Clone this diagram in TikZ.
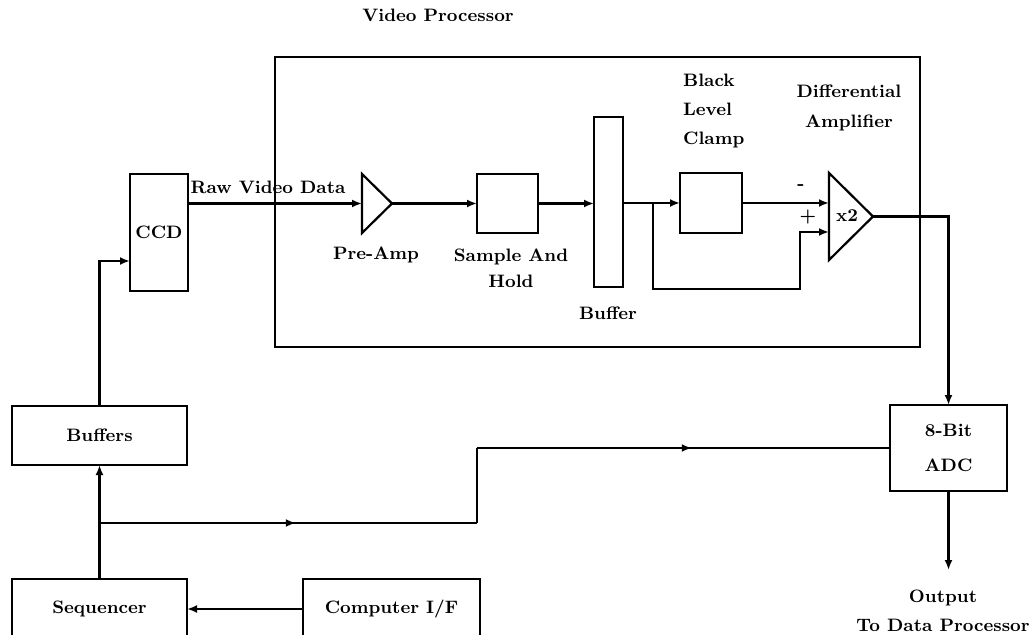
\documentclass[tikz,border=0pt]{standalone}
\usetikzlibrary{shapes.geometric,arrows.meta,decorations.markings}

\begin{document}
\begin{tikzpicture}[
    x=0.5pt, y=-0.5pt,
    >={Latex[length=5pt,width=4pt]},
    line width=1.1pt,
    every node/.style={font=\fontsize{9}{11}\selectfont\bfseries},
    block/.style={
        rectangle, draw=black, line width=1.1pt,
        inner sep=0pt, outer sep=0pt, align=center
    },
    amp/.style={
        isosceles triangle, isosceles triangle stretches,
        shape border rotate=0, draw=black, line width=1.1pt,
        inner sep=0pt, outer sep=0pt
    },
    caption/.style={inner sep=0pt, align=center},
    midarrow/.style={
        postaction={decorate},
        decoration={markings, mark=at position 0.52 with {\arrow{>}}}
    },
]

\useasboundingbox (0,0) rectangle (1031,635);
\clip (0,0) rectangle (1031,635);

% ── Video processor frame ────────────────────────────────────
\node[block, minimum width=322.5pt, minimum height=145pt] (vp) at (597.5,202) {};
\node[caption] (vptitle) at (438,15) {Video Processor};

% ── Signal chain ─────────────────────────────────────────────
\node[block, minimum width=29pt, minimum height=58.5pt] (ccd) at (159,232.5) {CCD};
\node[caption] (rawlbl) at (268,187) {Raw Video Data};

\node[amp, minimum width=29.5pt, minimum height=15pt, anchor=apex] (pre) at (392,203.5) {};
\node[caption] (prelbl) at (376,255) {Pre-Amp};

\node[block, minimum width=30.5pt, minimum height=29.5pt] (sh) at (507.5,203.5) {};
\node[caption] (shlbl) at (511,268) {Sample And\\[2pt]Hold};

\node[block, minimum width=14.5pt, minimum height=85pt] (buf) at (608.5,202) {};
\node[caption] (buflbl) at (608,313) {Buffer};

\node[block, minimum width=31pt, minimum height=30pt] (clamp) at (711,203) {};
\node[caption, anchor=west, align=left] (clamplbl) at (682,111) {Black\\[3.5pt]Level\\[3.5pt]Clamp};

\node[amp, minimum width=43.5pt, minimum height=22pt, anchor=apex] (diff) at (873,216.5) {};
\node[caption] (gain) at (847,216) {x2};
\node[caption] (minus) at (801,187) {-};
\node[caption] (plus) at (808,217) {+};
\node[caption] (difflbl) at (849,108) {Differential\\[4pt]Amplifier};

% ── Control and conversion ───────────────────────────────────
\node[block, minimum width=87.5pt, minimum height=29.5pt] (bufs) at (99.5,435.5) {Buffers};
\node[block, minimum width=58.5pt, minimum height=43pt] (adc) at (948.5,448) {8-Bit\\[6.5pt]ADC};
\node[block, minimum width=87.5pt, minimum height=30pt] (seq) at (99.5,609) {Sequencer};
\node[block, minimum width=88.5pt, minimum height=30pt] (comp) at (391.5,609) {Computer I/F};
\node[caption] (out) at (943,611) {Output\\[3.5pt]To Data Processor};

% ── Video path ───────────────────────────────────────────────
\draw[->] (ccd.east |- pre.west) -- (pre.west);
\draw[->] (pre.apex) -- (sh.west);
\draw[->] (sh.east) -- (buf.west |- sh.east);
\draw[->] (buf.east |- clamp.west) -- (clamp.west);
\draw[->] (clamp.east) -- (diff.west |- clamp.east);

\coordinate (tap) at (653,203);
\coordinate (loop) at (800,289);
\coordinate (plusin) at (829,232);
\draw[->] (tap) |- (loop) |- (plusin);

\draw[->] (diff.apex) -| (adc.north);
\coordinate (outtip) at (948.5,570);
\draw[->] (adc.south) -- (outtip);

% ── Clock / control path ─────────────────────────────────────
\draw[->] (comp.west) -- (seq.east);
\draw[->] (seq.north) -- (bufs.south);
\coordinate (ccdin) at (130,261);
\draw[->] (bufs.north) |- (ccdin);

\coordinate (split) at (99.5,523);
\coordinate (riseA) at (477,523);
\coordinate (riseB) at (477,448);
\draw[midarrow] (split) -- (riseA);
\draw (riseA) -- (riseB);
\draw[midarrow] (riseB) -- (adc.west);

\end{tikzpicture}
\end{document}
